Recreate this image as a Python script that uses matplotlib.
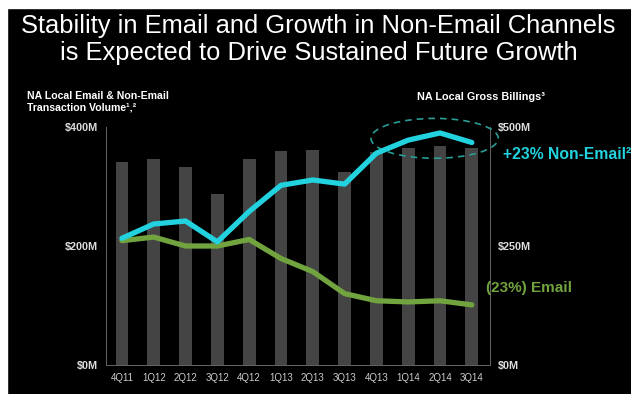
import matplotlib.pyplot as plt
from matplotlib.patches import Ellipse, Rectangle

# quarters on the x axis
quarters = ["4Q11", "1Q12", "2Q12", "3Q12", "4Q12", "1Q13", "2Q13",
            "3Q13", "4Q13", "1Q14", "2Q14", "3Q14"]
# gross billings (bars, right axis, $M)
billings = [426, 432, 416, 359, 432, 450, 452, 405, 448, 455, 460, 455]
# transaction volume (lines, left axis, $M)
non_email = [213, 237, 242, 207, 258, 302, 311, 304, 356, 378, 390, 374]
email = [209, 215, 200, 200, 211, 179, 157, 120, 108, 106, 108, 101]

left_ticks = [0, 200, 400]
left_labels = ["$0M", "$200M", "$400M"]
right_ticks = [0, 250, 500]
right_labels = ["$0M", "$250M", "$500M"]

plt.rcParams['font.family'] = ['Liberation Sans', 'DejaVu Sans']

fig = plt.figure(figsize=(6.31, 3.94), dpi=100, facecolor="black")

# white strips at the top and left edge of the screenshot
fig.patches.append(Rectangle((0, 0.98), 1, 0.02, transform=fig.transFigure,
                             color="white", zorder=0))
fig.patches.append(Rectangle((0, 0), 0.011, 1, transform=fig.transFigure,
                             color="white", zorder=0))

fig.text(0.505, 0.916, "Stability in Email and Growth in Non-Email Channels",
         color="white", fontsize=18.4, ha="center", va="baseline")
fig.text(0.505, 0.848, "is Expected to Drive Sustained Future Growth",
         color="white", fontsize=18.4, ha="center", va="baseline")

ax = fig.add_axes([0.168, 0.0736, 0.6085, 0.604])
ax.set_facecolor("black")
ax2 = ax.twinx()

x = list(range(len(quarters)))
ax2.bar(x, billings, width=0.4, color="#444444", zorder=1)
ax2.set_ylim(0, 500)

ax.set_zorder(ax2.get_zorder() + 1)
ax.patch.set_visible(False)
ax.plot(x, email, color="#71a33f", lw=3.8, solid_capstyle="round",
        solid_joinstyle="round")
ax.plot(x, non_email, color="#22d3df", lw=3.8, solid_capstyle="round",
        solid_joinstyle="round")
ax.set_ylim(0, 400)
ax.set_xlim(-0.5, 11.57)

ax.set_xticks(x)
ax.set_xticklabels(quarters, color="#cccccc", fontsize=7)
ax.set_yticks(left_ticks)
ax.set_yticklabels(left_labels, color="#dddddd", fontsize=7.8, fontweight="bold")
ax2.set_yticks(right_ticks)
ax2.set_yticklabels(right_labels, color="#dddddd", fontsize=7.8, fontweight="bold")
for a in (ax, ax2):
    a.tick_params(length=0, pad=6)
    for s in a.spines.values():
        s.set_visible(False)
ax.spines["left"].set_visible(True)
ax.spines["left"].set_color("#666666")
ax.spines["left"].set_linewidth(0.7)
ax.spines["bottom"].set_visible(True)
ax.spines["bottom"].set_color("#666666")
ax.spines["bottom"].set_linewidth(0.7)
ax2.spines["right"].set_visible(True)
ax2.spines["right"].set_color("#666666")
ax2.spines["right"].set_linewidth(0.7)

# dashed ellipse around the latest quarters
ell = Ellipse((9.83, 381), width=4.0, height=67, fill=False,
              edgecolor="#2a9d95", lw=1.2, ls=(0, (4, 3)), clip_on=False)
ax.add_patch(ell)

fig.text(0.043, 0.742, "NA Local Email & Non-Email\nTransaction Volume¹,²",
         color="white", fontsize=7.6, fontweight="bold", va="center",
         linespacing=1.1)
fig.text(0.661, 0.753, "NA Local Gross Billings³", color="white",
         fontsize=7.8, fontweight="bold", va="center")
fig.text(0.797, 0.607, "+23% Non-Email²", color="#22d3df", fontsize=11.3,
         fontweight="bold", va="center")
fig.text(0.77, 0.27, "(23%) Email", color="#71a33f", fontsize=11,
         fontweight="bold", va="center")

fig.savefig("out.png", dpi=100, facecolor="black")
